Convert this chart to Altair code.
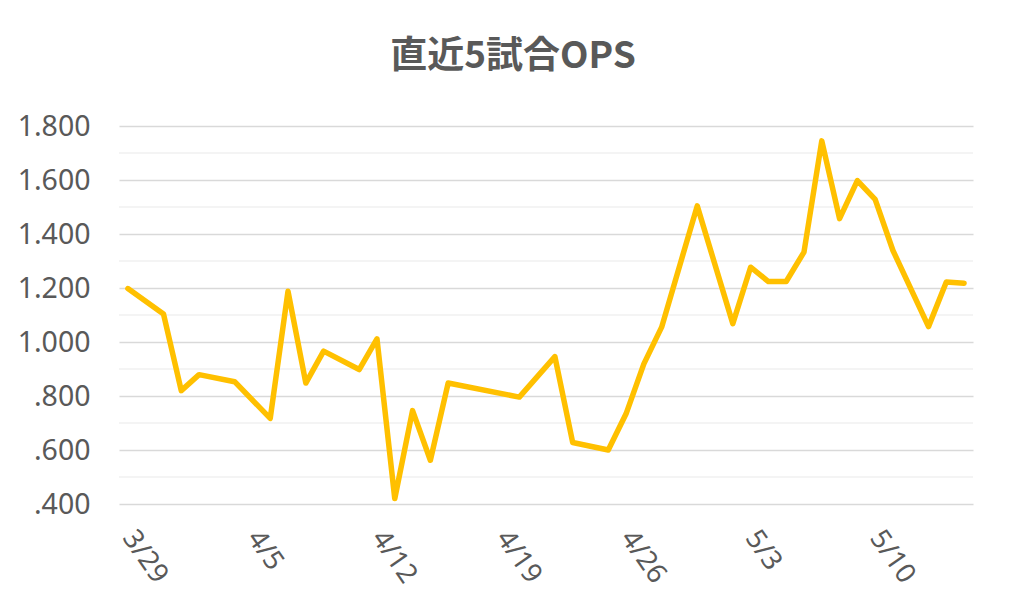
import altair as alt
import pandas as pd

# Game dates (2019 season) and 5-game rolling OPS
dates = ["2019-03-29", "2019-03-31", "2019-04-01", "2019-04-02", "2019-04-04",
         "2019-04-06", "2019-04-07", "2019-04-08", "2019-04-09", "2019-04-11",
         "2019-04-12", "2019-04-13", "2019-04-14", "2019-04-15", "2019-04-16",
         "2019-04-20", "2019-04-22", "2019-04-23", "2019-04-25", "2019-04-26",
         "2019-04-27", "2019-04-28", "2019-04-30", "2019-05-02", "2019-05-03",
         "2019-05-04", "2019-05-05", "2019-05-06", "2019-05-07", "2019-05-08",
         "2019-05-09", "2019-05-10", "2019-05-11", "2019-05-13", "2019-05-14",
         "2019-05-15"]
ops = [1.198, 1.104, 0.820, 0.879, 0.853,
       0.717, 1.188, 0.848, 0.966, 0.898,
       1.012, 0.420, 0.746, 0.562, 0.848,
       0.796, 0.946, 0.628, 0.600, 0.734,
       0.919, 1.055, 1.504, 1.068, 1.277,
       1.224, 1.224, 1.333, 1.745, 1.457,
       1.598, 1.528, 1.339, 1.057, 1.222,
       1.218]

y_labels = [0.4, 0.6, 0.8, 1.0, 1.2, 1.4, 1.6, 1.8]
minor_grid = [0.5, 0.7, 0.9, 1.1, 1.3, 1.5, 1.7]
x_tick_dates = ["2019-03-29", "2019-04-05", "2019-04-12", "2019-04-19",
                "2019-04-26", "2019-05-03", "2019-05-10"]
x_start = "2019-03-28T12:00:00"
x_end = "2019-05-15T12:00:00"

title_text = "直近5試合OPS"

df = pd.DataFrame({"date": [d + "T00:00:00" for d in dates], "ops": ops})
minor_df = pd.DataFrame({"v": minor_grid})


def dt(s):
    y, m, d = s[:10].split("-")
    h = int(s[11:13]) if len(s) > 10 else 0
    return alt.DateTime(year=int(y), month=int(m), date=int(d), hours=h)


y_scale = alt.Scale(domain=[0.4, 1.8], nice=False, zero=False)
x_scale = alt.Scale(domain=[dt(x_start), dt(x_end)], nice=False)

FONT = "Noto Sans"
GRAY = "#595959"

y_axis = alt.Axis(
    values=y_labels,
    labelExpr="datum.value < 1 ? slice(format(datum.value, '.3f'), 1) : format(datum.value, '.3f')",
    labelFont=FONT,
    labelFontSize=28.5,
    labelColor=GRAY,
    labelPadding=29,
    ticks=False,
    domain=False,
    grid=True,
    gridColor="#d9d9d9",
    gridWidth=1.3,
    title=None,
)

minor = alt.Chart(minor_df).mark_rule(color="#f0f0f0", strokeWidth=1.3).encode(
    y=alt.Y("v:Q", scale=y_scale, axis=y_axis)
)

line = alt.Chart(df).mark_line(
    color="#FFC000", strokeWidth=5.5, strokeCap="round", strokeJoin="round"
).encode(
    x=alt.X(
        "date:T",
        scale=x_scale,
        axis=alt.Axis(
            values=[dt(d) for d in x_tick_dates],
            format="%-m/%-d",
            labelAngle=55,
            labelAlign="left",
            labelBaseline="middle",
            labelPadding=29,
            labelFont=FONT,
            labelFontSize=27.5,
            labelColor=GRAY,
            ticks=False,
            domain=False,
            grid=False,
            title=None,
            labelOverlap=False,
        ),
    ),
    y=alt.Y("ops:Q", scale=y_scale, axis=y_axis),
)

chart = alt.layer(minor, line).properties(
    width=854,
    height=378,
    padding={"left": 111, "top": 118, "right": 43, "bottom": 99},
    autosize=alt.AutoSizeParams(type="none"),
    background="white",
    title=alt.TitleParams(
        text=title_text,
        font="Noto Sans CJK JP",
        fontSize=37,
        fontWeight="bold",
        color=GRAY,
        anchor="middle",
        dx=-33,
        offset=36,
    ),
).configure_view(strokeWidth=0, stroke="transparent")

chart.save("out.html", embed_options={"renderer": "svg", "actions": False})
